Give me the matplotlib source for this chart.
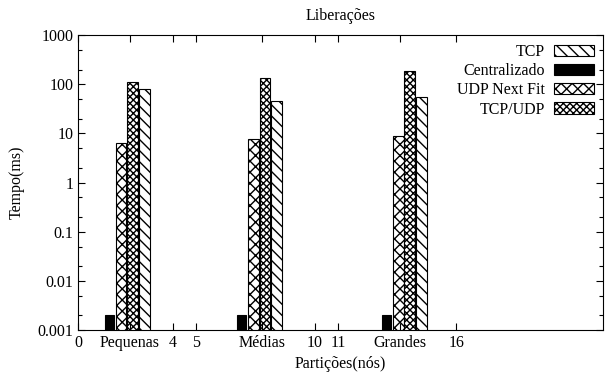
import matplotlib.pyplot as plt
import numpy as np
from matplotlib.ticker import FixedLocator, NullFormatter

plt.rcParams['font.family'] = ['Liberation Serif', 'DejaVu Serif']
plt.rcParams['hatch.linewidth'] = 1.0

# dados
grupos = ['Pequenas', 'Médias', 'Grandes']
centralizado = [0.002, 0.002, 0.002]
udp_next_fit = [6.3, 7.8, 9.0]
tcp_udp = [112, 135, 190]
tcp = [80, 46, 54]

num_ticks = [0, 4, 5, 10, 11, 16]

# layout
inicio = np.array([1.33, 6.93, 13.05])
pos_rotulo = [2.2, 7.8, 13.6]
larg = 0.45
passo = 0.49
fs = 11.5

fig = plt.figure(figsize=(6.05, 3.74), dpi=100)
ax = fig.add_axes([0.129, 0.1176, 0.8677, 0.7884])

ax.bar(inicio + 3 * passo, tcp, larg, color='white',
       edgecolor='black', hatch='\\\\\\', linewidth=0.8, label='TCP')
ax.bar(inicio, centralizado, larg * 0.85, color='black',
       edgecolor='black', linewidth=0.8, label='Centralizado')
ax.bar(inicio + passo, udp_next_fit, larg, color='white',
       edgecolor='black', hatch='xxx', linewidth=0.8, label='UDP Next Fit')
ax.bar(inicio + 2 * passo, tcp_udp, larg, color='white',
       edgecolor='black', hatch='xxxxx', linewidth=0.8, label='TCP/UDP')

ax.set_yscale('log')
ax.set_ylim(0.001, 1000)
ax.set_xlim(0, 22.2)

ticks = num_ticks + pos_rotulo
rotulos = [str(t) for t in num_ticks] + grupos
ax.set_xticks(ticks)
ax.set_xticklabels(rotulos, fontsize=fs)
ax.set_yticks([0.001, 0.01, 0.1, 1, 10, 100, 1000])
ax.set_yticklabels(['0.001', '0.01', '0.1', '1', '10', '100', '1000'], fontsize=fs)
ax.yaxis.set_minor_locator(FixedLocator([m * 10.0 ** e for e in range(-3, 3) for m in (2, 5)]))
ax.yaxis.set_minor_formatter(NullFormatter())
ax.tick_params(axis='both', which='major', direction='in', length=5, top=True, right=True, width=0.8)
ax.tick_params(axis='y', which='minor', direction='in', length=3, right=True, width=0.8)
ax.tick_params(axis='x', which='minor', bottom=False, top=False)
for s in ax.spines.values():
    s.set_linewidth(0.8)

ax.set_title('Liberações', fontsize=fs, pad=11)
ax.set_xlabel('Partições(nós)', fontsize=fs, labelpad=4)
ax.set_ylabel('Tempo(ms)', fontsize=fs, labelpad=9)

ax.legend(loc='upper right', frameon=False, markerfirst=False, fontsize=fs,
          handlelength=2.5, handleheight=0.7, labelspacing=0.2,
          borderaxespad=0.15, handletextpad=0.6)

fig.savefig('out.png', dpi=100)
